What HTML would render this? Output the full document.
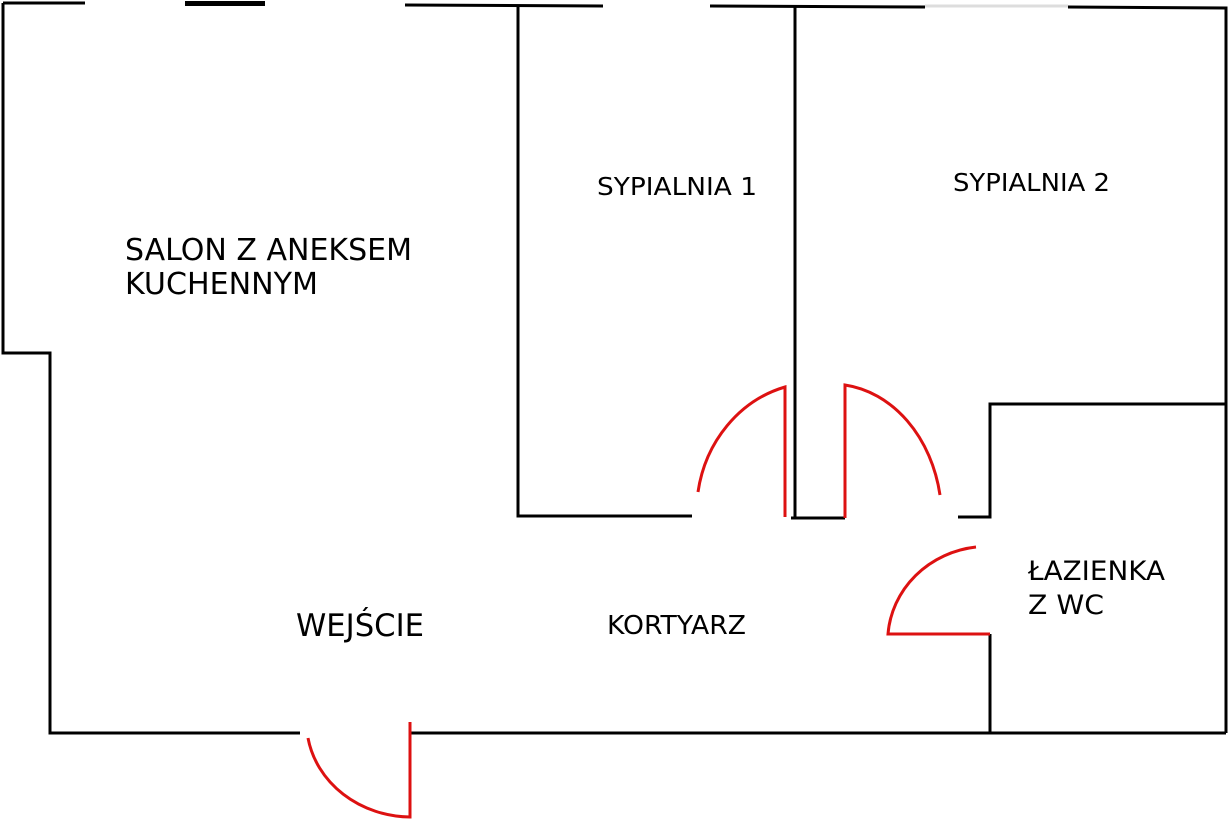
<!DOCTYPE html>
<html><head><meta charset="utf-8"><style>html,body{margin:0;padding:0;background:#fff;width:1228px;height:819px;overflow:hidden}</style></head>
<body>
<svg width="1228" height="819" viewBox="0 0 1228 819" xmlns="http://www.w3.org/2000/svg" font-family="DejaVu Sans, sans-serif">
<g stroke="#000" stroke-width="3" fill="none">
<path d="M3,3 H85"/>
<path d="M185,3.5 H265" stroke-width="5"/>
<path d="M405,5 L603,6"/>
<path d="M710,6 L925,7"/>
<path d="M925,6 L1068,6" stroke="#ddd"/>
<path d="M1068,7 L1226,8 V733"/>
<path d="M3,3 V353 H50 V733 H300"/>
<path d="M410,733 H1226"/>
<path d="M518,6 V516 H692"/>
<path d="M795,7 V518"/>
<path d="M791,518 H845"/>
<path d="M958,517 H990 V404 H1226"/>
<path d="M990,634 V733"/>
</g>
<g stroke="#d11" stroke-width="3" fill="none">
<path d="M785,517 V387 A120,130 0 0 0 698,492"/>
<path d="M845,518 V385 A110,135 0 0 1 940,495"/>
<path d="M990,634 H888 A100,95 0 0 1 976,547"/>
<path d="M410,722 V817 A105,95 0 0 1 308,738"/>
</g>
<g fill="#000">
<text x="125" y="260" font-size="30" textLength="287" lengthAdjust="spacingAndGlyphs">SALON Z ANEKSEM</text>
<text x="125" y="294" font-size="30" textLength="193" lengthAdjust="spacingAndGlyphs">KUCHENNYM</text>
<text x="597" y="195" font-size="25" textLength="160" lengthAdjust="spacingAndGlyphs">SYPIALNIA 1</text>
<text x="953" y="191" font-size="25" textLength="157" lengthAdjust="spacingAndGlyphs">SYPIALNIA 2</text>
<text x="296" y="636" font-size="31" textLength="128" lengthAdjust="spacingAndGlyphs">WEJŚCIE</text>
<text x="607" y="634" font-size="26" textLength="139" lengthAdjust="spacingAndGlyphs">KORTYARZ</text>
<text x="1028" y="580" font-size="27" textLength="137" lengthAdjust="spacingAndGlyphs">ŁAZIENKA</text>
<text x="1028" y="614" font-size="27" textLength="76" lengthAdjust="spacingAndGlyphs">Z WC</text>
</g>
</svg>
</body></html>
